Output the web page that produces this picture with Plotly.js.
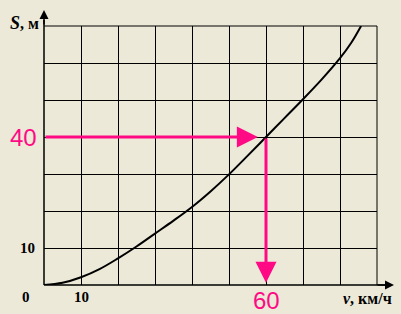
<!DOCTYPE html>
<html><head><meta charset="utf-8">
<script src="https://cdn.plot.ly/plotly-3.0.1.min.js"></script>
<style>html,body{margin:0;padding:0;background:#ece9d8;overflow:hidden;}#c{width:401px;height:314px;}</style>
</head><body><div id="c"></div>
<script>
// speed v (km/h) and braking distance S (m)
const speed = [0, 5, 10, 15, 20, 25, 30, 35, 40, 45, 50, 55, 60, 65, 70, 75, 80, 83, 85.7];
const dist  = [0, 0.6, 2.1, 4.3, 7.2, 10.4, 13.9, 17.4, 21.1, 25.3, 29.9, 34.9, 40, 45.1, 50.2, 55.5, 61.3, 65.4, 70];
const markV = 60, markS = 40;
const xTickLabels = ['0', '10'];
const yTickLabels = ['10'];
const pink = '#ff0a84';
const serif = 'Liberation Serif, Times New Roman, serif';
const sans = 'Liberation Sans, Arial, sans-serif';

const L = 44, R = 24, T = 26, B = 29, W = 401, H = 314;
const pw = W - L - R, ph = H - T - B;
const px = v => (v - L) / pw;           // pixel -> paper x
const py = v => (H - B - v) / ph;       // pixel -> paper y

const traces = [{
  x: speed, y: dist, type: 'scatter', mode: 'lines',
  line: {color: '#000', width: 2, shape: 'spline', smoothing: 1}, hoverinfo: 'skip'
}];

function label(x, y, xref, yref, text, font) {
  return {x: x, y: y, xref: xref, yref: yref, text: text, showarrow: false,
          xanchor: 'center', yanchor: 'middle', font: font};
}
const tickFont = {family: serif, size: 15, color: '#000'};
const titleFont = {family: serif, size: 16, color: '#000'};
const pinkFont = {family: sans, size: 24, color: pink};

const annotations = [
  // pink horizontal arrow
  {x: markV - 2.2, y: markS, ax: 0, ay: markS, xref: 'x', yref: 'y', axref: 'x', ayref: 'y',
   text: '', showarrow: true, arrowhead: 2, arrowsize: 1.4, arrowwidth: 3, arrowcolor: pink},
  // pink vertical arrow
  {x: markV, y: 0.6, ax: markV, ay: markS, xref: 'x', yref: 'y', axref: 'x', ayref: 'y',
   text: '', showarrow: true, arrowhead: 2, arrowsize: 1.4, arrowwidth: 3, arrowcolor: pink},
  // axis arrows
  {x: 0, y: py(10), xref: 'paper', yref: 'paper', ax: 0, ay: 16, text: '', showarrow: true,
   arrowhead: 2, arrowsize: 1.2, arrowwidth: 1.5, arrowcolor: '#000'},
  {x: px(394), y: 0, xref: 'paper', yref: 'paper', ax: -18, ay: 0, text: '', showarrow: true,
   arrowhead: 2, arrowsize: 1.2, arrowwidth: 1.5, arrowcolor: '#000'},
  // pink value labels
  label(px(23), markS, 'paper', 'y', String(markS), pinkFont),
  label(markV, py(300), 'x', 'paper', String(markV), pinkFont),
  // tick labels
  label(px(26), py(297), 'paper', 'paper', '<b>' + xTickLabels[0] + '</b>', tickFont),
  label(10, py(297), 'x', 'paper', '<b>' + xTickLabels[1] + '</b>', tickFont),
  label(px(27), 10, 'paper', 'y', '<b>' + yTickLabels[0] + '</b>', tickFont),
  // axis titles
  label(px(24), py(23), 'paper', 'paper', '<b><i><span style="font-size:18px">S</span></i>, м</b>', titleFont),
  label(px(367), py(298), 'paper', 'paper', '<b><i>v</i>, км/ч</b>', titleFont)
];

const layout = {
  width: W, height: H,
  margin: {l: L, r: R, t: T, b: B, autoexpand: false},
  paper_bgcolor: '#ece9d8', plot_bgcolor: '#ece9d8',
  showlegend: false,
  xaxis: {range: [0, 90], dtick: 10, showgrid: true, gridcolor: '#000', gridwidth: 1,
          showticklabels: false, zeroline: false, showline: false, ticks: '', fixedrange: true},
  yaxis: {range: [0, 70], dtick: 10, showgrid: true, gridcolor: '#000', gridwidth: 1,
          showticklabels: false, zeroline: false, showline: false, ticks: '', fixedrange: true},
  shapes: [
    {type: 'line', xref: 'paper', yref: 'paper', x0: 0, x1: 0, y0: 0, y1: py(20), line: {color: '#000', width: 1.5}},
    {type: 'line', xref: 'paper', yref: 'paper', x0: 0, x1: px(385), y0: 0, y1: 0, line: {color: '#000', width: 1.5}},
    {type: 'line', xref: 'paper', yref: 'paper', x0: 0, x1: 1, y0: 1, y1: 1, line: {color: '#000', width: 1}},
    {type: 'line', xref: 'paper', yref: 'paper', x0: 1, x1: 1, y0: 0, y1: 1, line: {color: '#000', width: 1}}
  ],
  annotations: annotations
};

Plotly.newPlot('c', traces, layout, {staticPlot: true, displayModeBar: false});
</script></body></html>
